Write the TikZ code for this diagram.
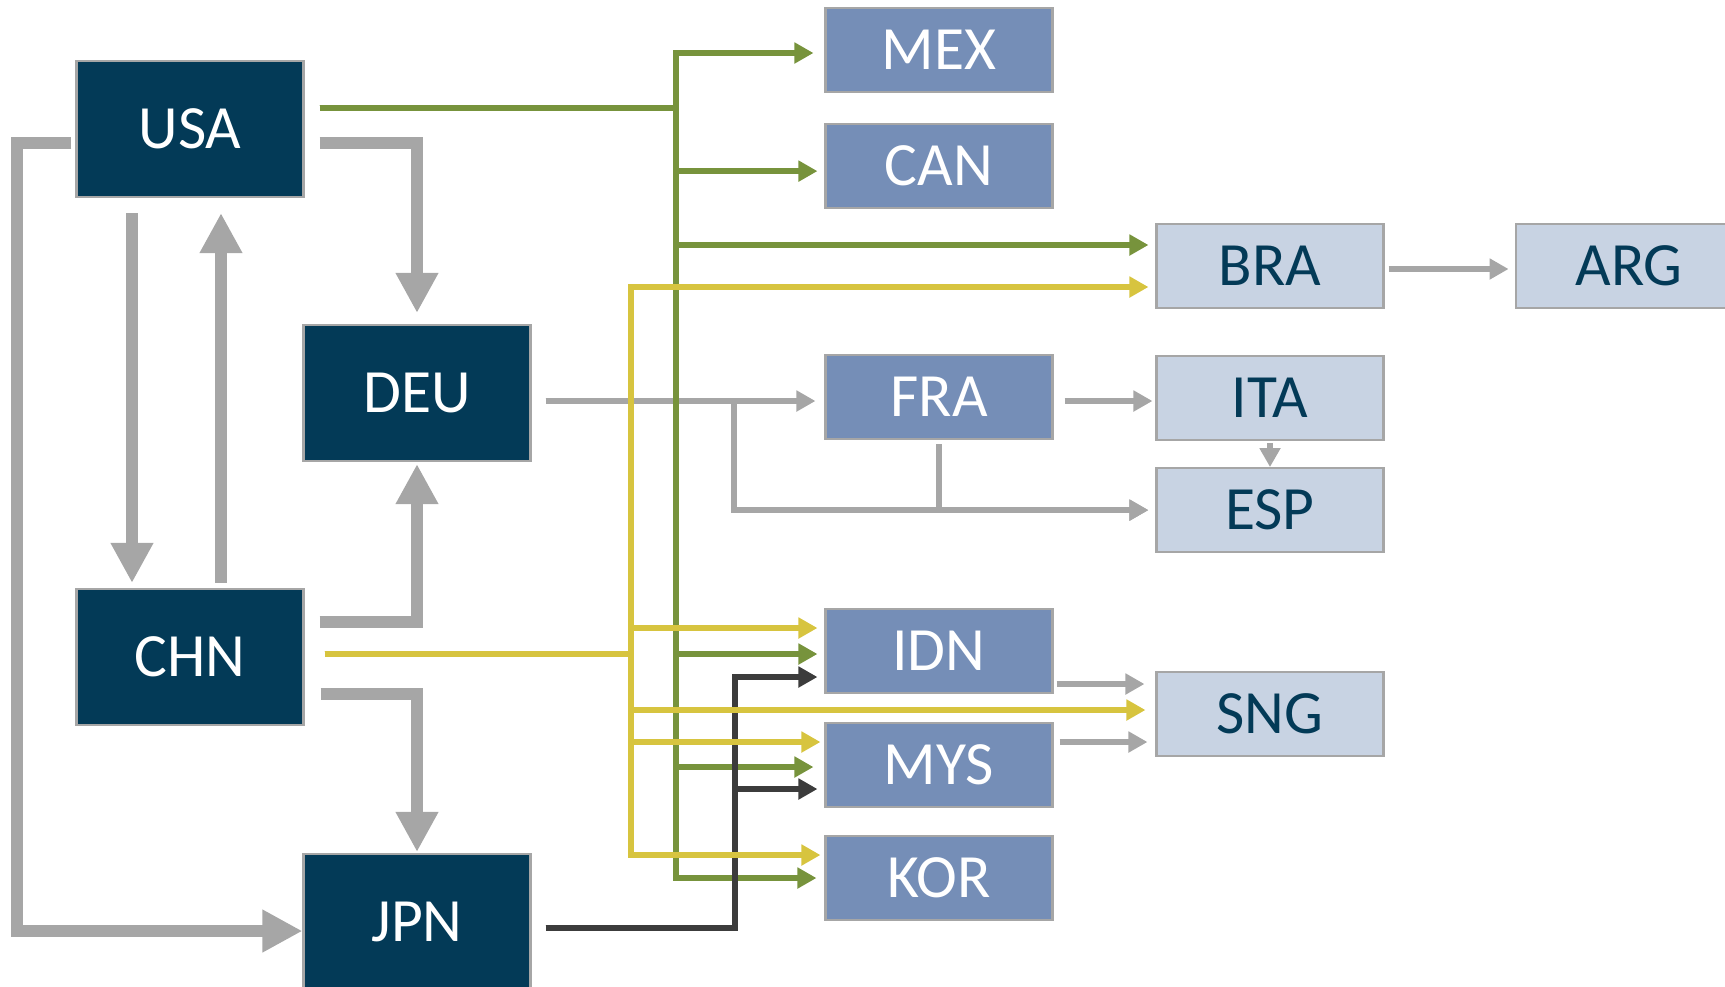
\documentclass[tikz,border=0pt]{standalone}
\usepackage{fontspec}
\setmainfont{Carlito}
\usetikzlibrary{positioning,calc,arrows.meta}
\definecolor{navy}{RGB}{3,58,87}
\definecolor{midblue}{RGB}{117,142,183}
\definecolor{lightblue}{RGB}{200,211,227}
\definecolor{boxgray}{RGB}{166,166,166}
\definecolor{arrowgray}{RGB}{166,166,166}
\definecolor{tradegreen}{RGB}{119,147,60}
\definecolor{tradeyellow}{RGB}{215,196,63}
\definecolor{tradedark}{RGB}{60,60,60}
\tikzset{
  country/.style={rectangle, draw=boxgray, line width=0.6pt, inner sep=0pt, font=\fontsize{17.5}{20}\selectfont},
  bigbox/.style={country, fill=navy, text=white, minimum width=22.7mm, minimum height=13.6mm},
  midbox/.style={country, fill=midblue, text=white, minimum width=22.7mm, minimum height=8.4mm},
  lightbox/.style={country, fill=lightblue, text=navy, minimum width=22.7mm, minimum height=8.4mm},
  bigflow/.style={draw=arrowgray, line width=3.4pt, -{Triangle[length=11.4pt,width=11.4pt]}},
  flow/.style={line width=1.7pt, -{Triangle[length=5.4pt,width=5.7pt]}},
  grayflow/.style={flow, draw=arrowgray},
  greenflow/.style={flow, draw=tradegreen},
  yellowflow/.style={flow, draw=tradeyellow},
  darkflow/.style={flow, draw=tradedark}
}
\begin{document}
\begin{tikzpicture}[x=0.1mm, y=-0.1mm, node distance=3mm]
\useasboundingbox (0,0) rectangle (1725,986);
\node (usa) [bigbox] at (190,129) {USA};
\node (deu) [bigbox] at (417,393) {DEU};
\node (chn) [bigbox] at (190,657) {CHN};
\node (jpn) [bigbox] at (417,922) {JPN};
\node (mex) [midbox] at (939,50) {MEX};
\node (can) [midbox, below=of mex] {CAN};
\node (fra) [midbox] at (939,397) {FRA};
\node (idn) [midbox] at (939,651) {IDN};
\node (mys) [midbox] at (939,765) {MYS};
\node (kor) [midbox] at (939,878) {KOR};
\node (bra) [lightbox] at (1270,266) {BRA};
\node (arg) [lightbox, right=13mm of bra] {ARG};
\node (ita) [lightbox] at (1270,398) {ITA};
\node (esp) [lightbox, below=2.6mm of ita] {ESP};
\node (sng) [lightbox] at (1270,714) {SNG};
\draw[bigflow] ($(usa.west)+(-4,14)$) -- ++(-54,0) |- ($(jpn.west)+(0,9)$);
\draw[bigflow] ($(usa.east)+(15,14)$) -| ($(deu.north)+(0,-11)$);
\draw[bigflow] ($(usa.south)+(-58,15)$) -- ($(chn.north)+(-58,-5)$);
\draw[bigflow] ($(chn.north)+(31,-5)$) -- ($(usa.south)+(31,15)$);
\draw[bigflow] ($(chn.east)+(15,-35)$) -| ($(deu.south)+(0,2)$);
\draw[bigflow] ($(chn.east)+(16,37)$) -| ($(jpn.north)+(0,-1)$);
\draw[grayflow] ($(deu.east)+(14,8)$) -- ($(fra.west)+(-9,4)$);
\draw[grayflow] ($(deu.east)+(14,8)$) -- ++(188,0) |- ($(esp.west)+(-7,0)$);
\draw[grayflow] ($(fra.south)+(0,4)$) |- ($(esp.west)+(-7,0)$);
\draw[grayflow] ($(fra.east)+(11,4)$) -- ($(ita.west)+(-3,3)$);
\draw[grayflow] ($(ita.south)+(0,2)$) -- (esp.north);
\draw[grayflow] ($(bra.east)+(4,3)$) -- ($(arg.west)+(-6,3)$);
\draw[grayflow] ($(idn.east)+(3,33)$) -- ($(sng.west)+(-11,-30)$);
\draw[grayflow] ($(mys.east)+(6,-23)$) -- ($(sng.west)+(-8,28)$);
\draw[greenflow] ($(usa.east)+(15,-21)$) -- ++(356,0) |- ($(mex.west)+(-11,3)$);
\draw[greenflow] ($(usa.east)+(15,-21)$) -- ++(356,0) |- ($(can.west)+(-7,5)$);
\draw[greenflow] ($(usa.east)+(15,-21)$) -- ++(356,0) |- ($(bra.west)+(-7,-21)$);
\draw[greenflow] ($(usa.east)+(15,-21)$) -- ++(356,0) |- ($(idn.west)+(-7,3)$);
\draw[greenflow] ($(usa.east)+(15,-21)$) -- ++(356,0) |- ($(mys.west)+(-11,2)$);
\draw[greenflow] ($(usa.east)+(15,-21)$) -- ++(356,0) |- ($(kor.west)+(-8,0)$);
\draw[darkflow] ($(jpn.east)+(14,6)$) -- ++(189,0) |- ($(idn.west)+(-7,26)$);
\draw[darkflow] ($(jpn.east)+(14,6)$) -- ++(189,0) |- ($(mys.west)+(-7,24)$);
\draw[yellowflow] ($(chn.east)+(20,-3)$) -- ++(306,0) |- ($(bra.west)+(-7,21)$);
\draw[yellowflow] ($(chn.east)+(20,-3)$) -- ++(306,0) |- ($(idn.west)+(-7,-23)$);
\draw[yellowflow] ($(chn.east)+(20,-3)$) -- ++(306,0) |- ($(sng.west)+(-10,-4)$);
\draw[yellowflow] ($(chn.east)+(20,-3)$) -- ++(306,0) |- ($(mys.west)+(-4,-23)$);
\draw[yellowflow] ($(chn.east)+(20,-3)$) -- ++(306,0) |- ($(kor.west)+(-4,-23)$);
\end{tikzpicture}
\end{document}
